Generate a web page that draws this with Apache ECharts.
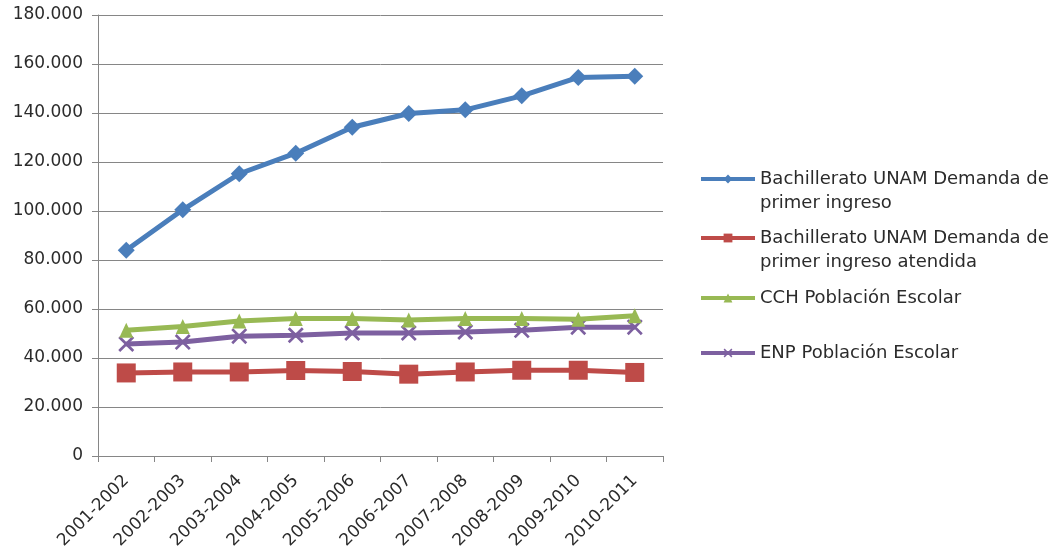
<!DOCTYPE html>
<html>
<head>
<meta charset="utf-8">
<script src="https://cdn.jsdelivr.net/npm/echarts@6/dist/echarts.min.js"></script>
<style>html,body{margin:0;padding:0;background:#fff;}#c{width:1057px;height:554px;}</style>
</head>
<body>
<div id="c"></div>
<script>
const categories = ['2001-2002','2002-2003','2003-2004','2004-2005','2005-2006','2006-2007','2007-2008','2008-2009','2009-2010','2010-2011'];
const seriesNames = [
  'Bachillerato UNAM Demanda de\nprimer ingreso',
  'Bachillerato UNAM Demanda de\nprimer ingreso atendida',
  'CCH Población Escolar',
  'ENP Población Escolar'
];
const demanda = [84000, 100500, 115200, 123600, 134200, 139800, 141300, 147000, 154500, 155000];
const atendida = [33900, 34300, 34300, 34900, 34500, 33400, 34300, 35000, 35000, 34100];
const cch = [51300, 52900, 55100, 56100, 56100, 55500, 56100, 56100, 55800, 57200];
const enp = [45700, 46500, 48900, 49300, 50200, 50200, 50600, 51300, 52600, 52600];

const colors = ['#4A7EBB', '#BE4B48', '#98B954', '#7D60A0'];
const FONT = 'DejaVu Sans';
const TEXT = '#2b2b2b';
const X_PATH = 'path://M0,1.2L1.2,0L5,3.8L8.8,0L10,1.2L6.2,5L10,8.8L8.8,10L5,6.2L1.2,10L0,8.8L3.8,5Z';

function fmt(v){ return String(v).replace(/\B(?=(\d{3})+(?!\d))/g, '.'); }

const chart = echarts.init(document.getElementById('c'), null, {renderer:'canvas'});

function legendAt(name, top, multiline){
  return {
    data: [name],
    left: 699,
    top: top,
    orient: 'vertical',
    padding: 0,
    itemWidth: 54,
    itemHeight: 11,
    itemGap: 0,
    selectedMode: false,
    lineStyle: { width: 4 },
    formatter: multiline ? function(n){ return '\u00a0\n' + n; } : null,
    textStyle: { fontFamily: FONT, fontSize: 18, color: TEXT, lineHeight: 24 }
  };
}

chart.setOption({
  animation: false,
  backgroundColor: '#ffffff',
  grid: { left: 98, right: 394, top: 15, bottom: 98, containLabel: false },
  legend: [
    legendAt(seriesNames[0], 143, true),
    legendAt(seriesNames[1], 202, true),
    legendAt(seriesNames[2], 286, false),
    legendAt(seriesNames[3], 341, false)
  ],
  xAxis: {
    type: 'category',
    data: categories,
    boundaryGap: true,
    axisLine: { lineStyle: { color: '#868686', width: 1 } },
    axisTick: { show: true, length: 6, alignWithLabel: false, lineStyle: { color: '#868686' } },
    axisLabel: { rotate: 45, margin: 22, fontFamily: FONT, fontSize: 17, color: TEXT, interval: 0 },
    splitLine: { show: false }
  },
  yAxis: {
    type: 'value',
    min: 0, max: 180000, interval: 20000,
    axisLine: { show: true, lineStyle: { color: '#868686', width: 1 } },
    axisTick: { show: true, length: 6, lineStyle: { color: '#868686' } },
    axisLabel: { margin: 15, fontFamily: FONT, fontSize: 17, color: TEXT, formatter: fmt },
    splitLine: { show: true, lineStyle: { color: '#868686', width: 1 } }
  },
  series: [
    { name: seriesNames[0], type: 'line', data: demanda, symbol: 'diamond', symbolSize: 17,
      lineStyle: { color: colors[0], width: 5 }, itemStyle: { color: colors[0] }, z: 5 },
    { name: seriesNames[1], type: 'line', data: atendida, symbol: 'rect', symbolSize: 19,
      lineStyle: { color: colors[1], width: 5 }, itemStyle: { color: colors[1] }, z: 4 },
    { name: seriesNames[2], type: 'line', data: cch, symbol: 'triangle', symbolSize: [14, 15],
      lineStyle: { color: colors[2], width: 5 }, itemStyle: { color: colors[2] }, z: 3 },
    { name: seriesNames[3], type: 'line', data: enp, symbol: X_PATH, symbolSize: 16,
      lineStyle: { color: colors[3], width: 5 }, itemStyle: { color: colors[3] }, z: 2 }
  ]
});
</script>
</body>
</html>
